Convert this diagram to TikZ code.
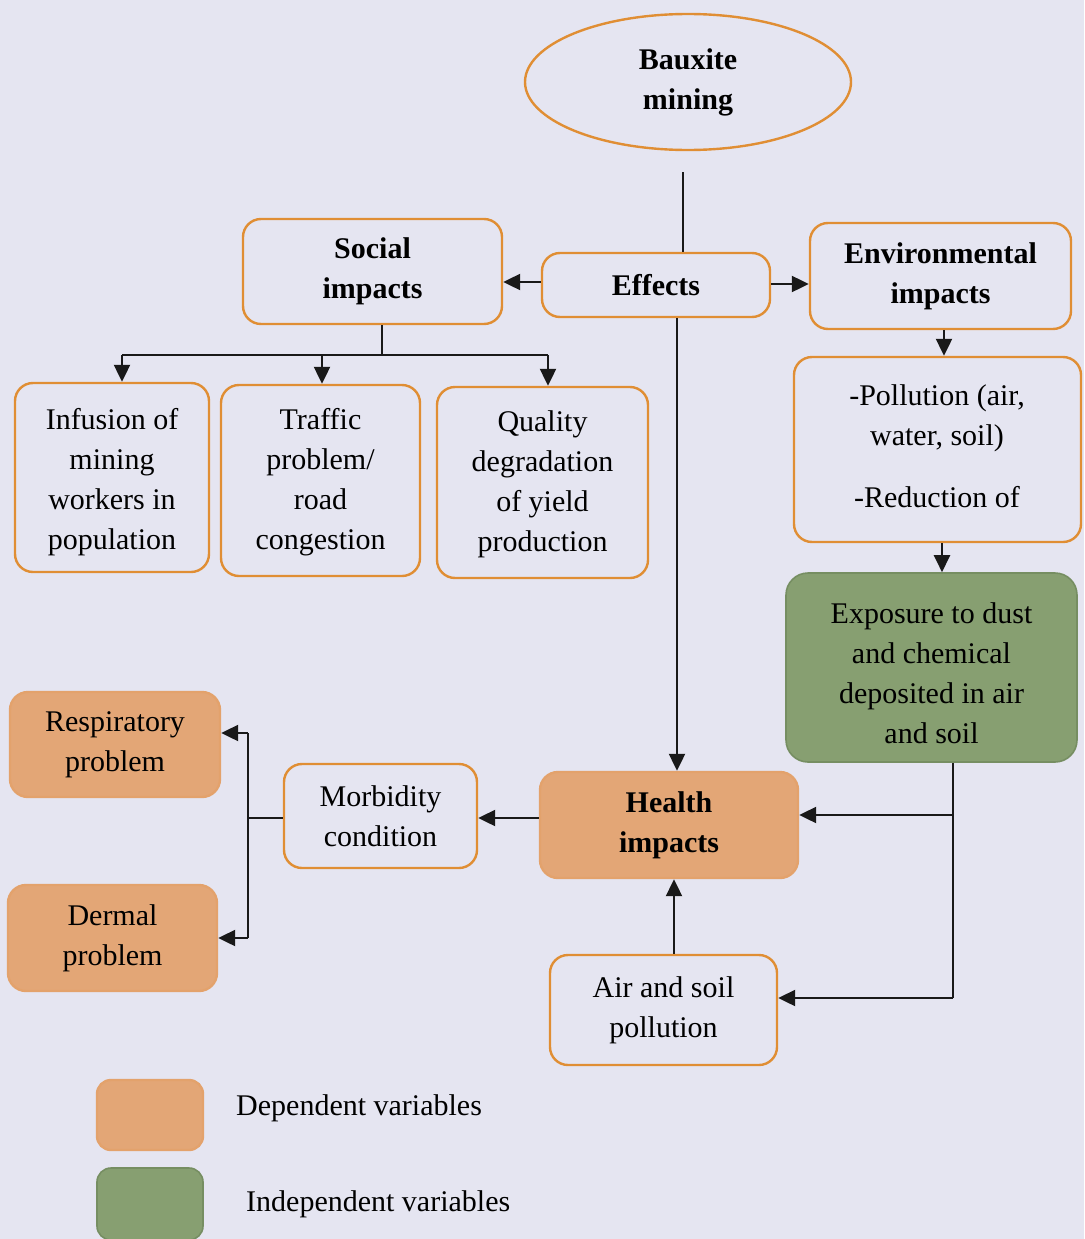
\documentclass[tikz,border=0pt]{standalone}
\usepackage{fontspec}
\setmainfont{Liberation Serif}
\usetikzlibrary{arrows.meta,shapes.geometric}
\definecolor{bgc}{RGB}{229,229,241}
\definecolor{obord}{RGB}{224,142,52}
\definecolor{ofill}{RGB}{227,166,118}
\definecolor{gfill}{RGB}{135,159,113}
\definecolor{gbord}{RGB}{118,142,98}
\definecolor{lnc}{RGB}{25,25,25}
\begin{document}
\begin{tikzpicture}[x=1pt,y=-1pt,
  every node/.style={font=\fontsize{30}{40}\selectfont, align=center, inner sep=0pt},
  box/.style={draw=obord, line width=2.4pt, rounded corners=18pt},
  obox/.style={box, fill=ofill, draw=ofill!85!obord},
  gbox/.style={draw=gbord, line width=1.6pt, rounded corners=22pt, fill=gfill},
  conn/.style={draw=lnc, line width=2.2pt},
  arr/.style={conn, -{Triangle[length=17pt,width=16pt]}}
]
\fill[bgc] (0,0) rectangle (1084,1239);
\useasboundingbox (0,0) rectangle (1084,1239);

% nodes
\node[draw=obord, line width=2.4pt, ellipse, minimum width=326, minimum height=136, font=\fontsize{30}{40}\selectfont\bfseries] (baux) at (688,82) {Bauxite\\mining};
\node[box, minimum width=228, minimum height=64, font=\fontsize{30}{40}\selectfont\bfseries] (eff) at (656,285) {Effects};
\node[box, minimum width=259, minimum height=105, font=\fontsize{30}{40}\selectfont\bfseries] (soc) at (372.5,271.5) {Social\\impacts};
\node[box, minimum width=261, minimum height=106, font=\fontsize{30}{40}\selectfont\bfseries] (env) at (940.5,276) {Environmental\\impacts};

\node[box, minimum width=194, minimum height=189] (inf) at (112,477.5) {};
\node (inft) at (112,482) {Infusion of\\mining\\workers in\\population};
\node[box, minimum width=199, minimum height=191] (traf) at (320.5,480.5) {};
\node (traft) at (320.5,482) {Traffic\\problem/\\road\\congestion};
\node[box, minimum width=211, minimum height=191] (qual) at (542.5,482.5) {};
\node (qualt) at (542.5,484) {Quality\\degradation\\of yield\\production};

\node[box, minimum width=287, minimum height=185] (poll) at (937.5,449.5) {};
\node (pollt) at (937,446) {-Pollution (air,\\water, soil)\\[22pt]-Reduction of};

\node[gbox, minimum width=291, minimum height=189] (expo) at (931.5,667.5) {};
\node (expot) at (931.5,673) {Exposure to dust\\and chemical\\deposited in air\\and soil};

\node[obox, minimum width=258, minimum height=106, font=\fontsize{30}{40}\selectfont\bfseries] (heal) at (669,825) {Health\\impacts};
\node[box, minimum width=227, minimum height=110] (air) at (663.5,1010) {Air and soil\\pollution};
\node[box, minimum width=193, minimum height=104] (morb) at (380.5,816) {Morbidity\\condition};
\node[obox, minimum width=210, minimum height=105] (resp) at (115,744.5) {Respiratory\\problem};
\node[obox, minimum width=209, minimum height=106] (derm) at (112.5,938) {Dermal\\problem};

% legend
\node[obox, rounded corners=14pt, minimum width=106, minimum height=70] (legd) at (150,1115) {};
\node[anchor=west] (legdt) at (236,1108) {Dependent variables};
\node[gbox, rounded corners=14pt, minimum width=106, minimum height=72] (legi) at (150,1204) {};
\node[anchor=west] (legit) at (246,1204) {Independent variables};

% connectors
\coordinate (btop) at (683,172);
\draw[conn] (btop) -- (btop |- eff.north);
\draw[arr] (eff.west |- 0,282) -- (soc.east |- 0,282);
\draw[arr] (eff.east |- 0,284) -- (env.west |- 0,284);

\coordinate (sj) at (382,355);
\draw[conn] (soc.south -| sj) -- (sj);
\draw[conn] (122,355) -- (548,355);
\draw[arr] (122,355) -- (inf.north -| 122,0);
\draw[arr] (322,355) -- (traf.north -| 322,0);
\draw[arr] (548,355) -- (qual.north -| 548,0);

\draw[arr] (env.south -| 944,0) -- (poll.north -| 944,0);
\draw[arr] (poll.south -| 942,0) -- (expo.north -| 942,0);

\draw[arr] (eff.south -| 677,0) -- (heal.north -| 677,0);

\coordinate (ej) at (953,998);
\draw[conn] (expo.south -| ej) -- (ej);
\draw[arr] (953,815) -- (heal.east |- 0,815);
\draw[arr] (ej) -- (air.east |- ej);

\draw[arr] (air.north -| 674,0) -- (heal.south -| 674,0);
\draw[arr] (heal.west |- 0,818) -- (morb.east |- 0,818);

\coordinate (mj) at (248,818);
\draw[conn] (morb.west |- mj) -- (mj);
\draw[conn] (248,733) -- (248,938);
\draw[arr] (248,733) -- (resp.east |- 0,733);
\draw[arr] (248,938) -- (derm.east |- 0,938);
\end{tikzpicture}
\end{document}
